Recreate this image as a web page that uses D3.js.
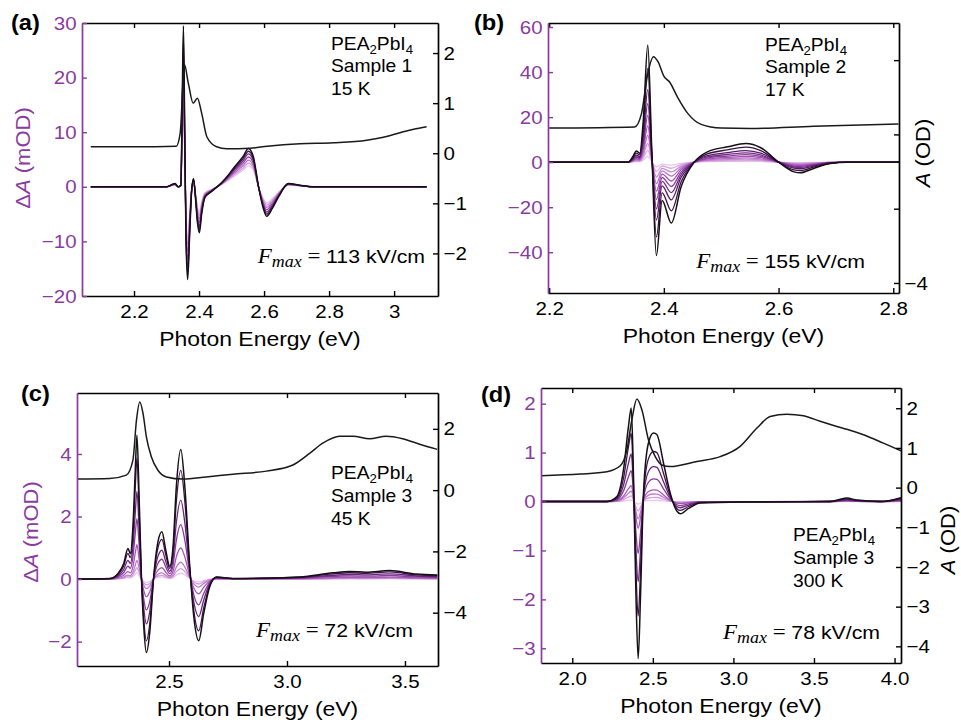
<!DOCTYPE html>
<html>
<head>
<meta charset="utf-8">
<script src="https://cdn.jsdelivr.net/npm/d3@7"></script>
<style>
  body { margin: 0; background: #fff; }
  svg { display: block; }
  text { font-family: "Liberation Sans", Arial, Helvetica, sans-serif; }
</style>
</head>
<body>
<div id="chart"></div>
<script>
// ---- values ----
// absorbance A (OD) for each panel, and the ΔA (mOD) trace at the highest field
// traceScale = peak height of each field trace relative to the top one (lowest field first)

// (a) sample 1, 15 K
const aAbsE = [2.067, 2.2, 2.33, 2.342, 2.355, 2.367, 2.382, 2.395, 2.408, 2.424, 2.454, 2.485, 2.557, 2.61, 2.71, 2.813, 2.916, 2.967, 3.018, 3.06, 3.1];
const aAbsA = [0.13, 0.13, 0.14, 0.4, 1.77, 1.4, 1.0, 1.1, 0.8, 0.33, 0.13, 0.09, 0.1, 0.14, 0.19, 0.21, 0.26, 0.32, 0.41, 0.48, 0.53];
const aDE = [2.067, 2.30, 2.326, 2.336, 2.344, 2.348, 2.352, 2.356, 2.360, 2.365, 2.371, 2.377, 2.383, 2.389, 2.395, 2.401, 2.408, 2.418, 2.44, 2.47, 2.485, 2.506, 2.535, 2.552, 2.567, 2.583, 2.597, 2.608, 2.625, 2.645, 2.675, 2.71, 2.75, 3.1];
const aDA = [0, 0, 0.6, 0, 0.3, 14, 29.5, 10, -10, -17, -9, -1, 1.5, -2, -6.5, -8.4, -5, -2, -0.8, 0.8, 1.8, 3.4, 5.5, 7.0, 5.5, 0, -3.8, -5.4, -4, -1.8, 0.6, 0.3, 0, 0];
const aTraceScale = [0.55, 0.62, 0.7, 0.78, 0.86, 0.93, 1.0];
const aXTicks = [2.2, 2.4, 2.6, 2.8, 3];
const aLTicks = [-20, -10, 0, 10, 20, 30];
const aRTicks = [-2, -1, 0, 1, 2];

// (b) sample 2, 17 K
const bAbsE = [2.2, 2.349, 2.361, 2.372, 2.382, 2.39, 2.4, 2.41, 2.424, 2.442, 2.465, 2.5, 2.55, 2.661, 2.809];
const bAbsA = [0.17, 0.2, 0.56, 1.64, 2.09, 1.95, 1.57, 1.41, 1.0, 0.56, 0.27, 0.17, 0.16, 0.22, 0.28];
const bDE = [2.2, 2.338, 2.346, 2.352, 2.358, 2.364, 2.372, 2.379, 2.387, 2.397, 2.413, 2.43, 2.453, 2.476, 2.511, 2.543, 2.569, 2.6, 2.627, 2.638, 2.661, 2.69, 2.72, 2.81];
const bDA = [0, 0, 2.5, 5, 4, 18, 52, 5, -41.5, -17, -27, -11, 0, 4.6, 6.8, 8.3, 6.4, 0, -4.3, -4.7, -2.8, -0.6, 0, 0];
const bTraceScale = [0.05, 0.1, 0.16, 0.23, 0.31, 0.4, 0.5, 0.62, 0.8, 1.0];
const bXTicks = [2.2, 2.4, 2.6, 2.8];
const bLTicks = [-40, -20, 0, 20, 40, 60];
const bRTicks = [-4, -2, 0, 2];
const bRLabels = ["\u22124", "", "", ""];

// (c) sample 3, 45 K
const cAbsE = [2.11, 2.249, 2.319, 2.347, 2.362, 2.376, 2.39, 2.404, 2.425, 2.453, 2.489, 2.559, 2.658, 2.771, 2.913, 3.025, 3.096, 3.153, 3.223, 3.28, 3.35, 3.42, 3.49, 3.562, 3.637];
const cAbsA = [0.36, 0.38, 0.49, 0.98, 2.28, 2.88, 2.5, 1.74, 1.09, 0.65, 0.43, 0.36, 0.43, 0.52, 0.62, 0.82, 1.2, 1.54, 1.76, 1.76, 1.68, 1.76, 1.68, 1.5, 1.33];
const cDE = [2.11, 2.249, 2.284, 2.308, 2.326, 2.336, 2.347, 2.357, 2.364, 2.373, 2.383, 2.393, 2.404, 2.418, 2.435, 2.453, 2.47, 2.486, 2.503, 2.517, 2.531, 2.55, 2.567, 2.588, 2.605, 2.626, 2.647, 2.672, 2.701, 2.771, 3.054, 3.195, 3.265, 3.336, 3.435, 3.548, 3.637];
const cDA = [0, 0.02, 0.18, 0.5, 0.98, 0.82, 1.67, 3.48, 4.6, 2.7, 0.07, -1.52, -2.35, -1.73, 0.07, 1.19, 1.51, 0.93, 0.41, 1.03, 2.95, 4.14, 2.95, 0.39, -1.2, -1.97, -1.1, -0.25, 0.07, 0.02, 0.07, 0.2, 0.24, 0.22, 0.27, 0.16, 0.13];
const cTraceScale = [0.045, 0.08, 0.13, 0.24, 0.42, 0.61, 0.84, 1.0];
const cXTicks = [2.5, 3.0, 3.5];
const cLTicks = [-2, 0, 2, 4];
const cRTicks = [-4, -2, 0, 2];

// (d) sample 3, 300 K
const dAbsE = [1.806, 2.05, 2.215, 2.298, 2.339, 2.37, 2.401, 2.432, 2.473, 2.515, 2.556, 2.608, 2.774, 2.918, 3.042, 3.146, 3.228, 3.331, 3.435, 3.538, 3.642, 3.704, 3.807, 3.931, 4.04];
const dAbsA = [0.3, 0.34, 0.4, 0.55, 0.95, 1.71, 2.23, 1.96, 1.2, 0.78, 0.57, 0.53, 0.66, 0.78, 1.04, 1.5, 1.79, 1.85, 1.81, 1.67, 1.54, 1.47, 1.33, 1.12, 0.93];
const dDE = [1.806, 2.215, 2.277, 2.318, 2.349, 2.366, 2.38, 2.395, 2.409, 2.424, 2.442, 2.473, 2.504, 2.525, 2.566, 2.608, 2.65, 2.67, 2.722, 2.794, 3.084, 3.6, 3.704, 3.766, 3.91, 4.04];
const dDA = [0, 0, 0.1, 0.65, 1.54, 1.91, 0.51, -1.88, -3.21, -1.88, 0.17, 1.2, 1.4, 1.37, 0.79, 0.17, -0.2, -0.25, -0.14, -0.03, -0.01, 0, 0.07, 0.03, 0, 0.08];
const dTraceScale = [0.016, 0.06, 0.11, 0.17, 0.33, 0.51, 0.73, 1.0];
const dXTicks = [2.0, 2.5, 3.0, 3.5, 4.0];
const dLTicks = [-3, -2, -1, 0, 1, 2];
const dRTicks = [-4, -3, -2, -1, 0, 1, 2];

const panelLetters = ["(a)", "(b)", "(c)", "(d)"];
const sampleText = [["Sample 1", "15 K"], ["Sample 2", "17 K"], ["Sample 3", "45 K"], ["Sample 3", "300 K"]];
const fieldText = ["113 kV/cm", "155 kV/cm", "72 kV/cm", "78 kV/cm"];

// ---- layout ----
const width = 961, height = 727;
const purple = "#8a3b9f";

const svg = d3.select("#chart").append("svg")
  .attr("width", width).attr("height", height);

const traceColor = d3.scaleLinear()
  .domain([0, 0.45, 0.8, 1])
  .range(["#e9c4ef", "#a452b6", "#561468", "#141014"]);

const panels = [
  { absE: aAbsE, absA: aAbsA, dE: aDE, dA: aDA, scales: aTraceScale,
    xTicks: aXTicks, lTicks: aLTicks, rTicks: aRTicks, rLabels: null,
    xFmt: d => d === 3 ? "3" : d3.format(".1f")(d),
    box: { left: 82, right: 438, top: 23, bottom: 296 },
    xDom: [2.04, 3.135], lDom: [-20, 30], rDom: [-2.85, 2.6],
    letter: [11, 30], note: [331, 49.5], field: [425, 263],
    lTitle: [23, 158], rTitle: null },
  { absE: bAbsE, absA: bAbsA, dE: bDE, dA: bDA, scales: bTraceScale,
    xTicks: bXTicks, lTicks: bLTicks, rTicks: bRTicks, rLabels: bRLabels,
    xFmt: d3.format(".1f"),
    box: { left: 548, right: 899, top: 23, bottom: 293 },
    xDom: [2.198, 2.81], lDom: [-58.1, 61.8], rDom: [-4.27, 3.0],
    letter: [474, 30], note: [765, 50.5], field: [865, 268],
    lTitle: null, rTitle: [923, 153] },
  { absE: cAbsE, absA: cAbsA, dE: cDE, dA: cDA, scales: cTraceScale,
    xTicks: cXTicks, lTicks: cLTicks, rTicks: cRTicks, rLabels: null,
    xFmt: d3.format(".1f"),
    box: { left: 77, right: 438, top: 393, bottom: 666 },
    xDom: [2.11, 3.64], lDom: [-2.78, 5.95], rDom: [-5.74, 3.17],
    letter: [21, 401], note: [331, 479], field: [413, 637],
    lTitle: [31, 532], rTitle: null },
  { absE: dAbsE, absA: dAbsA, dE: dDE, dA: dDA, scales: dTraceScale,
    xTicks: dXTicks, lTicks: dLTicks, rTicks: dRTicks, rLabels: null,
    xFmt: d3.format(".1f"),
    box: { left: 541, right: 901, top: 388, bottom: 663 },
    xDom: [1.806, 4.04], lDom: [-3.3, 2.32], rDom: [-4.42, 2.51],
    letter: [481, 402], note: [793, 541], field: [880, 639],
    lTitle: null, rTitle: [948, 540] }
];

panels.forEach((p, i) => {
  const b = p.box;
  const g = svg.append("g");

  const x = d3.scaleLinear().domain(p.xDom).range([b.left, b.right]);
  const yL = d3.scaleLinear().domain(p.lDom).range([b.bottom, b.top]);
  const yR = d3.scaleLinear().domain(p.rDom).range([b.bottom, b.top]);

  const clipId = "clip" + i;
  svg.append("clipPath").attr("id", clipId).append("rect")
    .attr("x", b.left).attr("y", b.top)
    .attr("width", b.right - b.left).attr("height", b.bottom - b.top);

  const plot = g.append("g").attr("clip-path", `url(#${clipId})`);

  // ΔA traces, lowest field (lightest) first
  const line = d3.line().curve(d3.curveMonotoneX);
  const n = p.scales.length;
  p.scales.forEach((s, k) => {
    const pts = p.dE.map((e, j) => [x(e), yL(p.dA[j] * s)]);
    plot.append("path")
      .attr("d", line(pts))
      .attr("fill", "none")
      .attr("stroke", traceColor(k / (n - 1)))
      .attr("stroke-width", k === n - 1 ? 1.5 : 1.3);
  });

  // absorbance on the right axis
  const absPts = p.absE.map((e, j) => [x(e), yR(p.absA[j])]);
  plot.append("path")
    .attr("d", line(absPts))
    .attr("fill", "none")
    .attr("stroke", "#1a1a1a")
    .attr("stroke-width", 1.5);

  // axes, ticks pointing inwards
  const xAxis = g.append("g").attr("transform", `translate(0,${b.bottom})`)
    .call(d3.axisBottom(x).tickValues(p.xTicks).tickFormat(p.xFmt)
      .tickSizeInner(-5).tickSizeOuter(0).tickPadding(9));
  g.append("g").attr("transform", `translate(0,${b.top})`)
    .call(d3.axisTop(x).tickValues(p.xTicks).tickFormat("")
      .tickSizeInner(-5).tickSizeOuter(0));
  const rAxis = g.append("g").attr("transform", `translate(${b.right},0)`)
    .call(d3.axisRight(yR).tickValues(p.rTicks)
      .tickFormat(p.rLabels ? (d, j) => p.rLabels[j] : d3.format(""))
      .tickSizeInner(-5).tickSizeOuter(0).tickPadding(5));
  const lAxis = g.append("g").attr("transform", `translate(${b.left},0)`)
    .call(d3.axisLeft(yL).tickValues(p.lTicks).tickFormat(d3.format(""))
      .tickSizeInner(-5).tickSizeOuter(0).tickPadding(5));

  g.selectAll(".domain").attr("stroke", "#000").attr("stroke-width", 1.7);
  g.selectAll(".tick line").attr("stroke", "#000").attr("stroke-width", 1.4);
  lAxis.select(".domain").attr("stroke", purple);
  lAxis.selectAll(".tick line").attr("stroke", purple);

  g.selectAll(".tick text")
    .attr("font-size", 19)
    .attr("font-family", "Liberation Sans, Arial, sans-serif")
    .attr("fill", "#000")
    .attr("transform", "scale(1.08,1)");
  lAxis.selectAll(".tick text").attr("fill", purple);

  // panel letter
  g.append("text")
    .attr("transform", `translate(${p.letter[0]},${p.letter[1]}) scale(1.1,1)`)
    .attr("font-size", 21.5).attr("font-weight", "bold")
    .text(panelLetters[i]);

  // x title
  g.append("text")
    .attr("transform", `translate(${(b.left + b.right) / 2},${b.bottom + 50}) scale(1.12,1)`)
    .attr("text-anchor", "middle").attr("font-size", 20.5)
    .text("Photon Energy (eV)");

  // y titles
  if (p.lTitle) {
    const t = g.append("text")
      .attr("transform", `translate(${p.lTitle[0]},${p.lTitle[1]}) rotate(-90) scale(1.1,1)`)
      .attr("text-anchor", "middle").attr("dy", "0.35em")
      .attr("font-size", 20).attr("fill", purple);
    t.append("tspan").text("\u0394");
    t.append("tspan").attr("font-style", "italic").text("A");
    t.append("tspan").text(" (mOD)");
  }
  if (p.rTitle) {
    const t = g.append("text")
      .attr("transform", `translate(${p.rTitle[0]},${p.rTitle[1]}) rotate(-90) scale(1.1,1)`)
      .attr("text-anchor", "middle").attr("dy", "0.35em")
      .attr("font-size", 20).attr("fill", "#000");
    t.append("tspan").attr("font-style", "italic").text("A");
    t.append("tspan").text(" (OD)");
  }

  // sample note
  const note = g.append("g")
    .attr("transform", `translate(${p.note[0]},${p.note[1]}) scale(1.1,1)`);
  const t1 = note.append("text").attr("font-size", 17.5);
  t1.append("tspan").text("PEA");
  t1.append("tspan").attr("font-size", 12).attr("dy", 4).text("2");
  t1.append("tspan").attr("dy", -4).text("PbI");
  t1.append("tspan").attr("font-size", 12).attr("dy", 4).text("4");
  note.append("text").attr("font-size", 17.5).attr("y", 23).text(sampleText[i][0]);
  note.append("text").attr("font-size", 17.5).attr("y", 46).text(sampleText[i][1]);

  // field annotation
  const f = g.append("text")
    .attr("transform", `translate(${p.field[0]},${p.field[1]}) scale(1.12,1)`)
    .attr("text-anchor", "end").attr("font-size", 19);
  f.append("tspan").attr("font-family", "Liberation Serif, serif").attr("font-style", "italic")
    .attr("font-size", 20.5).text("F");
  f.append("tspan").attr("font-family", "Liberation Serif, serif").attr("font-style", "italic")
    .attr("font-size", 16).attr("dy", 4).text("max");
  f.append("tspan").attr("font-family", "Liberation Serif, serif")
    .attr("font-size", 20.5).attr("dy", -4).text(" = ");
  f.append("tspan").text(fieldText[i]);
});
</script>
</body>
</html>
